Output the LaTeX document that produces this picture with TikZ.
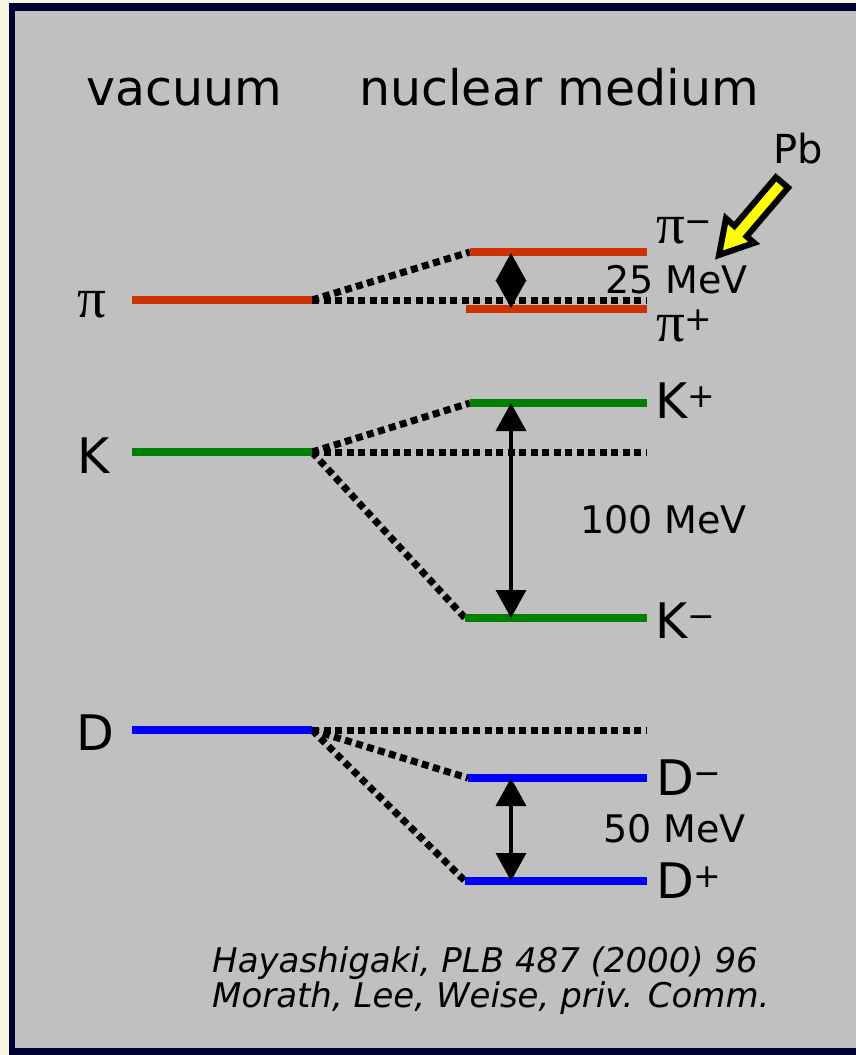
\documentclass[tikz,border=0pt]{standalone}
\usepackage{fontspec}
\setmainfont{DejaVu Sans}
\newfontfamily\grk{Liberation Serif}
\usetikzlibrary{arrows.meta}
\definecolor{cream}{HTML}{F8F6E0}
\definecolor{navy}{HTML}{000033}
\definecolor{panel}{HTML}{C0C0C0}
\definecolor{pired}{HTML}{CC3300}
\definecolor{kgreen}{HTML}{008000}
\definecolor{dblue}{HTML}{0000FF}
\definecolor{pbyellow}{HTML}{FFFF00}
\newcommand{\sizeL}{\fontsize{49}{58}\selectfont}
\newcommand{\sizeM}{\fontsize{38}{46}\selectfont}
\newcommand{\pbsize}{\fontsize{40}{48}\selectfont}
\newcommand{\refsize}{\fontsize{34}{42}\selectfont}
\newcommand{\pisym}{{\grk\fontsize{57}{64}\selectfont π}}
\newcommand{\charge}[1]{{\fontsize{33}{33}\selectfont\raisebox{11pt}{#1}}}
\tikzset{
  lbl/.style={inner sep=0pt, anchor=base west, text=black},
  level/.style={line width=8pt},
  split/.style={line width=7pt, dash pattern=on 7pt off 4.5pt, black},
  gap/.style={line width=3.5pt, black,
    {Triangle[width=30pt,length=28pt]}-{Triangle[width=30pt,length=28pt]}},
}
\begin{document}
\begin{tikzpicture}[x=1pt,y=-1pt]
\useasboundingbox (0,0) rectangle (856,1055);
% frame
\fill[cream] (-5,-5) rectangle (862,1060);
\fill[navy] (9,3) rectangle (862,1060);
\fill[panel] (15,11) rectangle (862,1048);

% headings
\node[lbl] (hvac) at (86,105) {\sizeL vacuum};
\node[lbl] (hmed) at (359,105) {\sizeL nuclear medium};

% level end points
\coordinate (piV0) at (132,300); \coordinate (piV) at (312,300);
\coordinate (piM0) at (470,252); \coordinate (piM) at (647,252);
\coordinate (piP0) at (466,309); \coordinate (piP) at (647,309);
\coordinate (piC) at (647,300);
\coordinate (kV0) at (132,452); \coordinate (kV) at (312,452);
\coordinate (kP0) at (470,403); \coordinate (kP) at (647,403);
\coordinate (kM0) at (465,618); \coordinate (kM) at (647,618);
\coordinate (kC) at (647,452);
\coordinate (dV0) at (132,730); \coordinate (dV) at (312,730);
\coordinate (dM0) at (468,778); \coordinate (dM) at (647,778);
\coordinate (dP0) at (465,881); \coordinate (dP) at (647,881);
\coordinate (dC) at (647,730);

% dotted splitting lines
\draw[split] (piV) -- (piM0);
\draw[split] (piV) -- (piC);
\draw[split] (kV) -- (kP0);
\draw[split] (kV) -- (kC);
\draw[split] (kV) -- (kM0);
\draw[split] (dV) -- (dC);
\draw[split] (dV) -- (dM0);
\draw[split] (dV) -- (dP0);

% levels
\draw[level, pired] (piV0) -- (piV);
\draw[level, pired] (piM0) -- (piM);
\draw[level, pired] (piP0) -- (piP);
\draw[level, kgreen] (kV0) -- (kV);
\draw[level, kgreen] (kP0) -- (kP);
\draw[level, kgreen] (kM0) -- (kM);
\draw[level, dblue] (dV0) -- (dV);
\draw[level, dblue] (dM0) -- (dM);
\draw[level, dblue] (dP0) -- (dP);

% splitting arrows
\coordinate (aPiT) at (511,253); \coordinate (aPiB) at (511,308);
\coordinate (aKT) at (511,403); \coordinate (aKB) at (511,618);
\coordinate (aDT) at (511,778); \coordinate (aDB) at (511,881);
\draw[gap] (aPiT) -- (aPiB);
\draw[gap] (aKT) -- (aKB);
\draw[gap] (aDT) -- (aDB);

% vacuum labels
\node[lbl] (lpi) at (77,317) {\pisym};
\node[lbl] (lk) at (77,473) {\sizeL K};
\node[lbl] (ld) at (76,750) {\sizeL D};

% medium labels
\node[lbl] (lpim) at (656,243) {\pisym\charge{−}};
\node[lbl] (lpip) at (656,341) {\pisym\charge{+}};
\node[lbl] (lkp) at (655,418) {\sizeL K\charge{+}};
\node[lbl] (lkm) at (655,638) {\sizeL K\charge{−}};
\node[lbl] (ldm) at (656,795) {\sizeL D\charge{−}};
\node[lbl] (ldp) at (656,898) {\sizeL D\charge{+}};

% shifts
\node[lbl] (s25) at (605,293) {\sizeM 25 MeV};
\node[lbl] (s100) at (580,533) {\sizeM 100 MeV};
\node[lbl] (s50) at (603,842) {\sizeM 50 MeV};

% lead beam
\node[lbl] (pb) at (773,163) {\pbsize Pb};
\draw[line width=6pt, line join=miter, fill=pbyellow]
  (719,255) -- (754.2,242.9) -- (746.6,236.4) -- (788.1,187.7)
  -- (775.9,177.3) -- (734.4,226.0) -- (726.0,218.4) -- cycle;

% references
\node[lbl] (ref1) at (212,972) {\refsize\itshape Hayashigaki, PLB 487 (2000) 96};
\node[lbl] (ref2) at (212,1007) {\refsize\itshape Morath, Lee, Weise, priv. Comm.};
\end{tikzpicture}
\end{document}
